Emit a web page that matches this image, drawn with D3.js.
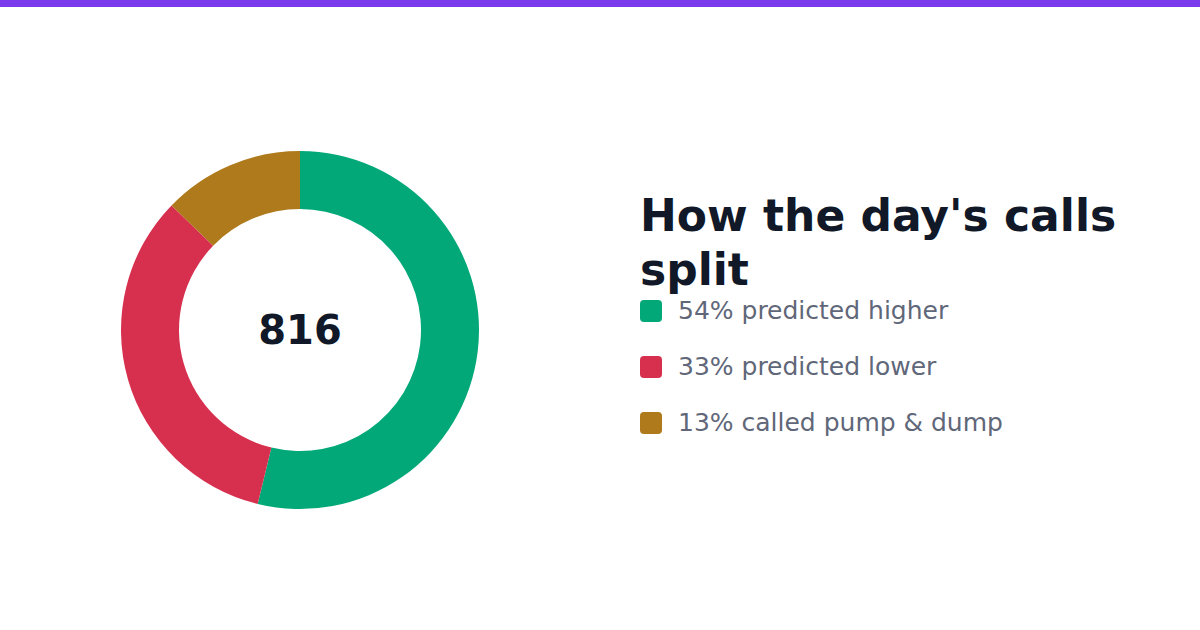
<!DOCTYPE html>
<html>
<head>
<meta charset="utf-8">
<script src="https://cdn.jsdelivr.net/npm/d3@7"></script>
<style>
  html, body { margin: 0; padding: 0; background: #fff; }
  svg { display: block; font-family: "DejaVu Sans", sans-serif; }
</style>
</head>
<body>
<svg width="1200" height="630"></svg>
<script>
var svg = d3.select("svg"),
    width = +svg.attr("width"),
    height = +svg.attr("height");

var labels = ["predicted higher", "predicted lower", "called pump & dump"];
var counts = [439, 273, 104];
var colors = ["#02a878", "#d7304f", "#ae7a1b"];
var titleLines = ["How the day's calls", "split"];

var total = d3.sum(counts);

// top accent bar
svg.append("rect")
    .attr("x", 0).attr("y", 0)
    .attr("width", width).attr("height", 7)
    .attr("fill", "#7c3aed");

var pie = d3.pie().sort(null).value(function(d) { return d; });
var arc = d3.arc().innerRadius(121).outerRadius(179);

var donut = svg.append("g")
    .attr("transform", "translate(300,330)");

donut.selectAll("path")
    .data(pie(counts))
  .enter().append("path")
    .attr("d", arc)
    .attr("fill", function(d, i) { return colors[i]; });

donut.append("text")
    .attr("text-anchor", "middle")
    .attr("dy", "0.35em")
    .attr("font-size", 40)
    .attr("font-weight", "bold")
    .attr("fill", "#111827")
    .text(d3.format(",d")(total));

// title
svg.append("text")
    .attr("x", 640)
    .attr("font-size", 44)
    .attr("font-weight", "bold")
    .attr("fill", "#111827")
  .selectAll("tspan")
    .data(titleLines)
  .enter().append("tspan")
    .attr("x", 640)
    .attr("y", function(d, i) { return 231 + i * 54; })
    .text(function(d) { return d; });

// legend
var pct = d3.format(".0%");
var item = svg.selectAll(".legend")
    .data(counts)
  .enter().append("g")
    .attr("class", "legend")
    .attr("transform", function(d, i) { return "translate(640," + (300 + i * 56) + ")"; });

item.append("rect")
    .attr("width", 22).attr("height", 22)
    .attr("rx", 4)
    .attr("fill", function(d, i) { return colors[i]; });

item.append("text")
    .attr("x", 38)
    .attr("y", 19)
    .attr("font-size", 25)
    .attr("fill", "#5f6779")
    .text(function(d, i) { return pct(d / total) + " " + labels[i]; });
</script>
</body>
</html>
